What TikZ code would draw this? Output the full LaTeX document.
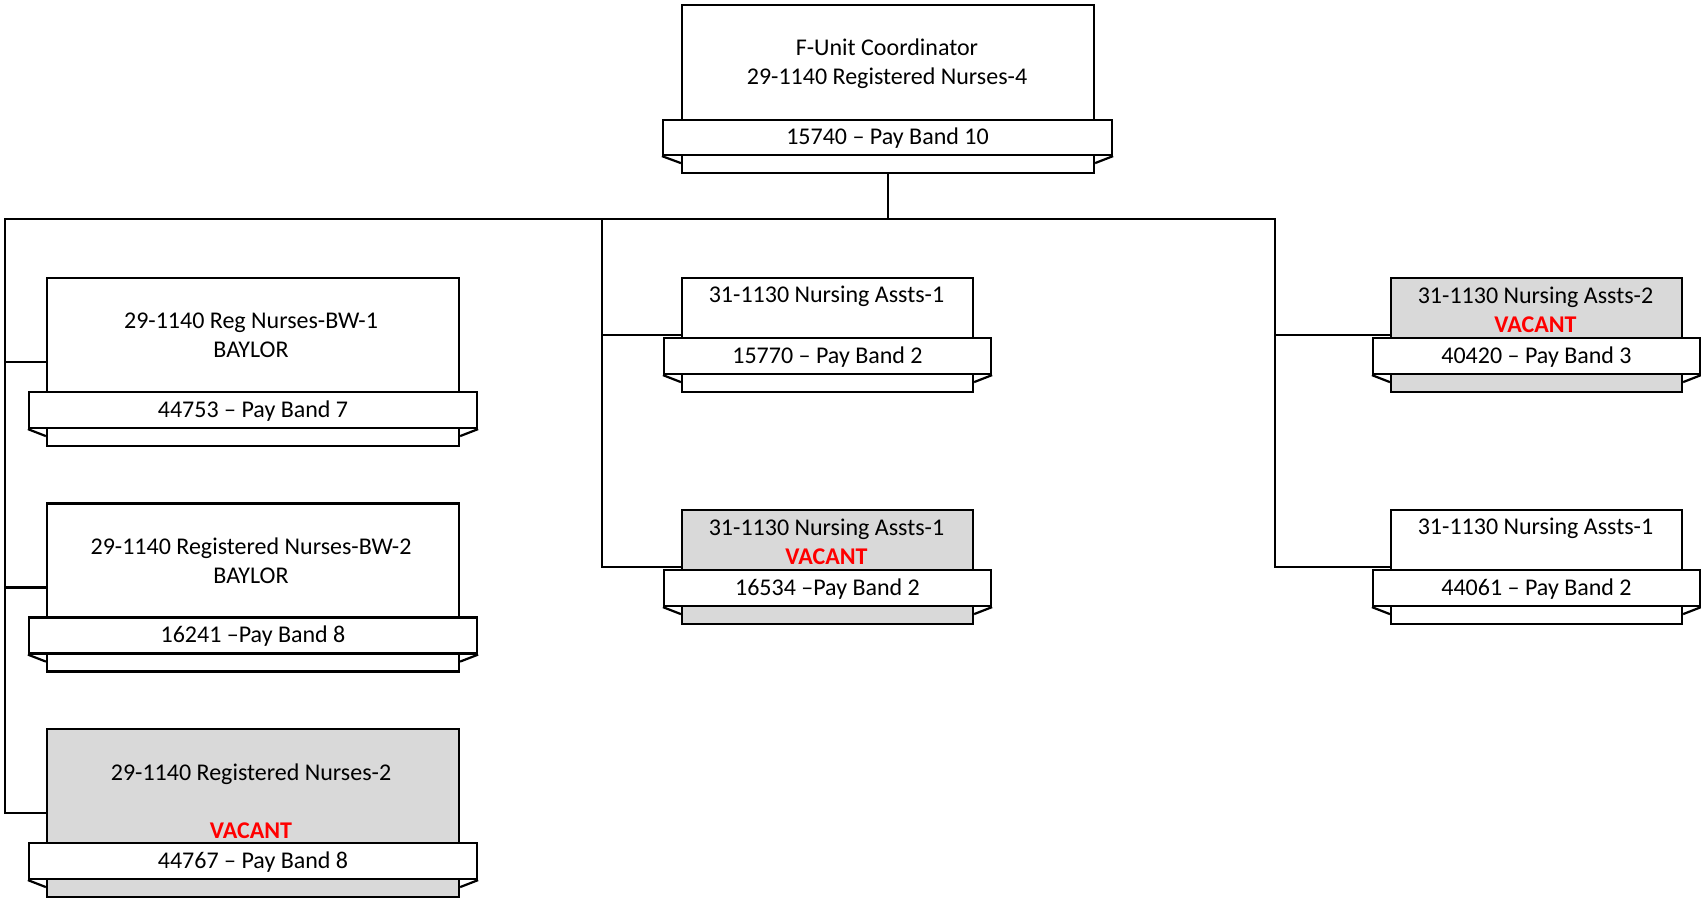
\documentclass[tikz,border=0pt]{standalone}
\usepackage{fontspec}
\setmainfont{Carlito}
\usetikzlibrary{calc}
\definecolor{vacgray}{HTML}{D9D9D9}
\definecolor{vacred}{HTML}{FF0000}
\newcommand{\vacanttext}{\textcolor{vacred}{\bfseries VACANT}}
\newcommand{\bannerfolds}[2]{%
  \draw[fold] (#2.south west) -- ($(#2.south west -| #1.west)+(0,7)$);
  \draw[fold] (#2.south east) -- ($(#2.south east -| #1.east)+(0,7)$);}
\tikzset{
  posbox/.style={draw, line width=2.2pt, rectangle, inner sep=0pt},
  bigbox/.style={posbox, minimum width=412pt, minimum height=168pt},
  smallbox/.style={posbox, minimum width=291pt, minimum height=114pt},
  banner/.style={posbox, fill=white, minimum height=36pt, text height=19pt, text depth=5pt, font=\fontsize{24}{29}\selectfont},
  bigbanner/.style={banner, minimum width=448pt},
  smallbanner/.style={banner, minimum width=327pt},
  vac/.style={fill=vacgray},
  lbl/.style={align=center, font=\fontsize{24}{29}\selectfont, inner sep=0pt},
  link/.style={line width=2.3pt, line cap=rect},
  fold/.style={line width=2.2pt},
}
\begin{document}
\begin{tikzpicture}[x=1pt,y=-1pt]
\useasboundingbox (0,0) rectangle (1701,900);
% top position
\node[bigbox] (top) at (888,89) {};
\node[lbl] (topt) at ($(top.north)+(-1,60)$) {F-Unit Coordinator\\29-1140 Registered Nurses-4};
\node[banner, minimum width=449pt, minimum height=35pt] (topb) at (887.5,137.5) {15740 – Pay Band 10};
\bannerfolds{top}{topb}
% left column
\node[bigbox] (l1) at (253,362) {};
\node[lbl] (l1t) at ($(l1.north)+(-2,58)$) {29-1140 Reg Nurses-BW-1\\BAYLOR};
\node[bigbanner] (l1b) at (253,410) {44753 – Pay Band 7};
\bannerfolds{l1}{l1b}
\node[bigbox] (l2) at (253,587.5) {};
\node[lbl] (l2t) at ($(l2.north)+(-2,58)$) {29-1140 Registered Nurses-BW-2\\BAYLOR};
\node[bigbanner] (l2b) at (253,635.5) {16241 –Pay Band 8};
\bannerfolds{l2}{l2b}
\node[bigbox, vac] (l3) at (253,813) {};
\node[lbl] (l3t) at ($(l3.north)+(-2,73)$) {29-1140 Registered Nurses-2\\[29pt]\vacanttext};
\node[bigbanner] (l3b) at (253,861) {44767 – Pay Band 8};
\bannerfolds{l3}{l3b}
% middle column
\node[smallbox] (m1) at (827.5,335) {};
\node[lbl] (m1t) at ($(m1.north)+(-1,19)$) {31-1130 Nursing Assts-1};
\node[smallbanner] (m1b) at (827.5,356) {15770 – Pay Band 2};
\bannerfolds{m1}{m1b}
\node[smallbox, vac] (m2) at (827.5,567) {};
\node[lbl] (m2t) at ($(m2.north)+(-1,33)$) {31-1130 Nursing Assts-1\\\vacanttext};
\node[smallbanner] (m2b) at (827.5,588) {16534 –Pay Band 2};
\bannerfolds{m2}{m2b}
% right column
\node[smallbox, vac] (r1) at (1536.5,335) {};
\node[lbl] (r1t) at ($(r1.north)+(-1,33)$) {31-1130 Nursing Assts-2\\\vacanttext};
\node[smallbanner] (r1b) at (1536.5,356) {40420 – Pay Band 3};
\bannerfolds{r1}{r1b}
\node[smallbox] (r2) at (1536.5,567) {};
\node[lbl] (r2t) at ($(r2.north)+(-1,19)$) {31-1130 Nursing Assts-1};
\node[smallbanner] (r2b) at (1536.5,588) {44061 – Pay Band 2};
\bannerfolds{r2}{r2b}
% connectors
\coordinate (busL) at (5,219);
\coordinate (busM) at (602,219);
\coordinate (busR) at (1275,219);
\draw[link, line width=2.8pt] (top.south) -- (top.south |- busL);
\draw[link, line width=2.7pt] (busL) -- (top.south |- busL);
\draw[link] (top.south |- busL) -- (busR);
\draw[link] (busL) |- (l1.west);
\draw[link] (busL) |- (l2.west);
\draw[link] (busL) |- (l3.west);
\draw[link, line width=2.7pt] (busM) -- (busM |- m1.west);
\draw[link] (busM) |- (m1.west);
\draw[link] (busM) |- (m2.west);
\draw[link] (busR) |- (r1.west);
\draw[link] (busR) |- (r2.west);
\end{tikzpicture}
\end{document}
